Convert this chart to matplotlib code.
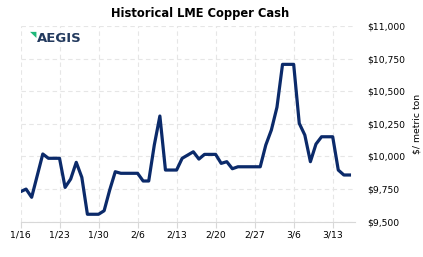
import matplotlib
matplotlib.use("Agg")
import matplotlib.pyplot as plt
import pandas as pd

# vertices of the price line, 2022 dates
dates = ["1/16", "1/17", "1/18", "1/20", "1/21", "1/23", "1/24", "1/25", "1/26",
         "1/27", "1/28", "1/30", "1/31", "2/1", "2/2", "2/3", "2/6", "2/7",
         "2/8", "2/9", "2/10", "2/11", "2/13", "2/14", "2/16", "2/17", "2/18",
         "2/20", "2/21", "2/22", "2/23", "2/24", "2/28", "3/1", "3/2", "3/3",
         "3/4", "3/6", "3/7", "3/8", "3/9", "3/10", "3/11", "3/13", "3/14",
         "3/15", "3/16"]
prices = [9730, 9750, 9687, 10019, 9986, 9986, 9763, 9827, 9955,
          9840, 9557, 9557, 9584, 9743, 9883, 9871, 9871, 9812,
          9812, 10088, 10310, 9896, 9896, 9986, 10036, 9980, 10016,
          10016, 9947, 9960, 9906, 9921, 9921, 10088, 10203, 10377,
          10706, 10706, 10254, 10164, 9960, 10095, 10151, 10151, 9896,
          9858, 9858]
tick_labels = ["1/16", "1/23", "1/30", "2/6", "2/13", "2/20", "2/27", "3/6", "3/13"]
y_ticks = [9500, 9750, 10000, 10250, 10500, 10750, 11000]

start = pd.Timestamp("2022-01-16")
days = [(pd.Timestamp("2022-" + d.replace("/", "-")) - start).days for d in dates]
tick_days = [(pd.Timestamp("2022-" + d.replace("/", "-")) - start).days for d in tick_labels]

plt.rcParams['font.family'] = ['DejaVu Sans']
fig = plt.figure(figsize=(4.23, 2.57), dpi=100)
ax = fig.add_axes([20.5 / 423, 1 - 221.7 / 257, (355 - 20.5) / 423, (221.7 - 26) / 257])

ax.plot(days, prices, color="#0b2a6a", lw=2.3, solid_joinstyle="round")

ax.set_xlim(0, 60)
ax.set_ylim(9500, 11000)
ax.set_xticks(tick_days)
ax.set_xticklabels(tick_labels, fontsize=6.7)
ax.set_yticks(y_ticks)
ax.set_yticklabels(["${:,}".format(v) for v in y_ticks], fontsize=6.7)
ax.yaxis.tick_right()
ax.yaxis.set_label_position("right")
ax.tick_params(axis="y", length=0, pad=9)
ax.tick_params(axis="x", length=4, color="#d8d8d8", pad=2)
ax.set_ylabel("$/ metric ton", fontsize=6.7, labelpad=5)

ax.grid(True, color="#e6e6e6", linestyle=(0, (4, 3)), lw=0.8)
for s in ["top", "right", "left"]:
    ax.spines[s].set_visible(False)
ax.spines["bottom"].set_color("#d8d8d8")

fig.text(200 / 423, 1 - 13 / 257, "Historical LME Copper Cash", ha="center", va="center",
         fontsize=8.3, fontweight="bold")

# logo
fig.text(37 / 423, 1 - 38 / 257, "AEGIS", ha="left", va="center", fontsize=9.5,
         fontweight="bold", color="#233a5e")
fig.text(30 / 423, 1 - 34.5 / 257, "\u25e5", ha="left", va="center", fontsize=6,
         color="#1fb87a")

fig.savefig("out.png", dpi=100)
